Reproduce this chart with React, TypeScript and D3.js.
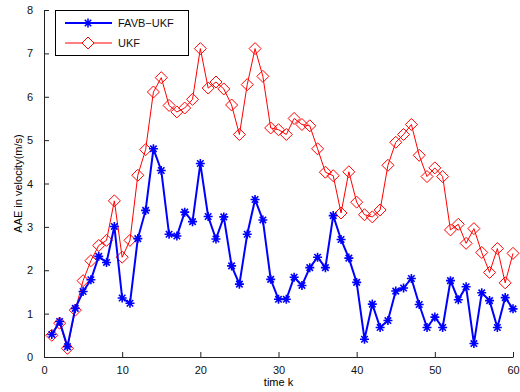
import React, { useRef, useEffect } from 'react';
import * as d3 from 'd3';

// time steps 1..60
const steps: number[] = d3.range(1, 61);

const favbUkf: number[] = [
  0.52, 0.82, 0.24, 1.12, 1.51, 1.78, 2.32, 2.18, 3.01, 1.36,
  1.24, 2.73, 3.38, 4.8, 4.3, 2.83, 2.79, 3.34, 3.12, 4.46,
  3.24, 2.72, 3.23, 2.1, 1.68, 2.83, 3.63, 3.16, 1.79, 1.33,
  1.33, 1.84, 1.65, 2.06, 2.3, 2.06, 3.26, 2.71, 2.28, 1.72,
  0.41, 1.22, 0.68, 0.84, 1.52, 1.59, 1.81, 1.21, 0.68, 0.92,
  0.68, 1.76, 1.32, 1.62, 0.31, 1.48, 1.3, 0.68, 1.37, 1.11,
];

const ukf: number[] = [
  0.5, 0.78, 0.2, 1.08, 1.76, 2.22, 2.57, 2.69, 3.6, 2.3,
  2.69, 4.19, 4.78, 6.11, 6.44, 5.8, 5.65, 5.74, 5.94, 7.11,
  6.2, 6.34, 6.18, 5.81, 5.13, 6.28, 7.11, 6.47, 5.28, 5.24,
  5.13, 5.5, 5.36, 5.33, 4.8, 4.26, 4.18, 3.32, 4.27, 3.57,
  3.28, 3.23, 3.39, 4.42, 4.95, 5.13, 5.36, 4.65, 4.16, 4.36,
  4.16, 2.93, 3.06, 2.62, 2.96, 2.41, 1.95, 2.5, 1.71, 2.39,
];

const xTicks = [0, 10, 20, 30, 40, 50, 60];
const yTicks = [0, 1, 2, 3, 4, 5, 6, 7, 8];

const W = 520;
const H = 392;
const FONT = 'Liberation Sans, Arial, sans-serif';

const App = () => {
  const ref = useRef<SVGSVGElement>(null);

  useEffect(() => {
    const svg = d3.select(ref.current);
    svg.selectAll('*').remove();

    const margin = { top: 10, right: 7, bottom: 35, left: 44 };

    const x = d3.scaleLinear().domain([0, 60]).range([margin.left, W - margin.right]);
    const y = d3.scaleLinear().domain([0, 8]).range([H - margin.bottom, margin.top]);

    svg.append('rect').attr('width', W).attr('height', H).attr('fill', '#fff');

    // axes (matlab style, ticks inward)
    const xAxis = svg.append('g')
      .attr('transform', `translate(0,${y(0)})`)
      .call(d3.axisBottom(x).tickValues(xTicks).tickSizeInner(-5).tickSizeOuter(0).tickPadding(9));
    const yAxis = svg.append('g')
      .attr('transform', `translate(${x(0)},0)`)
      .call(d3.axisLeft(y).tickValues(yTicks).tickSizeInner(-5).tickSizeOuter(0).tickPadding(11));

    [xAxis, yAxis].forEach(g => {
      g.select('.domain').attr('stroke', '#222');
      g.selectAll('.tick line').attr('stroke', '#222');
      g.selectAll('.tick text').attr('fill', '#111').attr('font-size', 11).attr('font-family', FONT);
    });

    // labels
    svg.append('text')
      .attr('x', (x(0) + x(60)) / 2)
      .attr('y', 386)
      .attr('text-anchor', 'middle')
      .attr('font-size', 11)
      .attr('font-family', FONT)
      .text('time k');

    svg.append('text')
      .attr('transform', `translate(22,${(y(0) + y(8)) / 2}) rotate(-90)`)
      .attr('text-anchor', 'middle')
      .attr('font-size', 11)
      .attr('font-family', FONT)
      .text('AAE in velocity(m/s)');

    const line = d3.line<number>()
      .x((_, i) => x(steps[i]))
      .y(d => y(d));

    // UKF (red, diamonds)
    svg.append('path')
      .datum(ukf)
      .attr('d', line)
      .attr('fill', 'none')
      .attr('stroke', '#ff0000')
      .attr('stroke-width', 1);

    const diamond = (cx: number, cy: number, r: number) =>
      `M${cx},${cy - r}L${cx + r},${cy}L${cx},${cy + r}L${cx - r},${cy}Z`;

    svg.append('g')
      .selectAll('path')
      .data(ukf)
      .enter().append('path')
      .attr('d', (d, i) => diamond(x(steps[i]), y(d), 6))
      .attr('fill', 'none')
      .attr('stroke', '#ff0000')
      .attr('stroke-width', 1);

    // FAVB-UKF (blue, asterisks)
    svg.append('path')
      .datum(favbUkf)
      .attr('d', line)
      .attr('fill', 'none')
      .attr('stroke', '#0000ff')
      .attr('stroke-width', 2);

    const star = (cx: number, cy: number, r: number) => {
      const s = r * 0.72;
      return `M${cx - r},${cy}L${cx + r},${cy}M${cx},${cy - r}L${cx},${cy + r}` +
        `M${cx - s},${cy - s}L${cx + s},${cy + s}M${cx - s},${cy + s}L${cx + s},${cy - s}`;
    };

    svg.append('g')
      .selectAll('path')
      .data(favbUkf)
      .enter().append('path')
      .attr('d', (d, i) => star(x(steps[i]), y(d), 4.5))
      .attr('fill', 'none')
      .attr('stroke', '#0000ff')
      .attr('stroke-width', 1.6);

    // legend
    const lg = svg.append('g');
    lg.append('rect')
      .attr('x', 55.5).attr('y', 10.5)
      .attr('width', 133).attr('height', 45)
      .attr('fill', '#fff').attr('stroke', '#000').attr('stroke-width', 1);

    const items = [
      { name: 'FAVB\u2212UKF', color: '#0000ff', width: 2, y: 23, marker: 'star' },
      { name: 'UKF', color: '#ff0000', width: 1, y: 43, marker: 'diamond' },
    ];
    items.forEach(it => {
      lg.append('line')
        .attr('x1', 65).attr('x2', 112).attr('y1', it.y).attr('y2', it.y)
        .attr('stroke', it.color).attr('stroke-width', it.width);
      lg.append('path')
        .attr('d', it.marker === 'star' ? star(88, it.y, 4.5) : diamond(88, it.y, 6))
        .attr('fill', it.marker === 'star' ? 'none' : '#fff')
        .attr('stroke', it.color)
        .attr('stroke-width', it.marker === 'star' ? 1.6 : 1);
      lg.append('text')
        .attr('x', 118).attr('y', it.y + 4)
        .attr('font-size', 11)
        .attr('font-family', FONT)
        .attr('fill', '#111')
        .text(it.name);
    });
  }, []);

  return (
    <svg
      ref={ref}
      width={W}
      height={H}
      style={{ position: 'absolute', left: 0, top: 0 }}
    />
  );
};

export default App;
